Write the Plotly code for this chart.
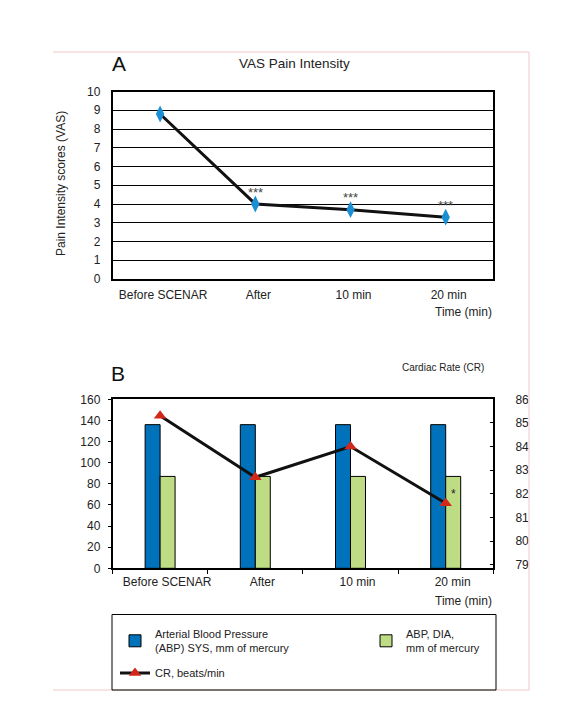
import plotly.graph_objects as go

# ---------------- data ----------------
categories = ["Before SCENAR", "After", "10 min", "20 min"]
vas_scores = [8.8, 4.0, 3.7, 3.3]
vas_marks = ["", "***", "***", "***"]
abp_sys = [136, 136, 136, 136]
abp_dia = [87, 87, 87, 87]
cardiac_rate = [85.3, 82.7, 84.0, 81.6]
cr_marks = ["", "", "", "*"]
vas_ticks = list(range(0, 11))
bp_ticks = list(range(0, 161, 20))
cr_ticks = list(range(79, 87))

W, H = 588, 705


def px(x):
    return x / W


def py(y):
    return 1 - y / H


FONT = "Liberation Sans, Arial, sans-serif"
TXT = "#222222"
PINK = "#f0c8c8"

fig = go.Figure()

# Panel A
fig.add_trace(go.Scatter(
    x=categories, y=vas_scores, xaxis="x", yaxis="y", mode="lines+markers",
    line=dict(color="#111111", width=3),
    marker=dict(symbol="diamond-tall", size=12, color="#1a8fd4"),
    showlegend=False, name="VAS"))

# Panel B
fig.add_trace(go.Bar(
    x=categories, y=abp_sys, xaxis="x2", yaxis="y2",
    name="Arterial Blood Pressure<br>(ABP) SYS, mm of mercury",
    marker=dict(color="#0072bc", line=dict(color="#000000", width=1)),
    legend="legend"))
fig.add_trace(go.Bar(
    x=categories, y=abp_dia, xaxis="x2", yaxis="y2",
    name="ABP, DIA,<br>mm of mercury",
    marker=dict(color="#bedc84", line=dict(color="#000000", width=1)),
    legend="legend3"))
fig.add_trace(go.Scatter(
    x=categories, y=cardiac_rate, xaxis="x2", yaxis="y3", mode="lines+markers",
    name="CR, beats/min",
    line=dict(color="#111111", width=3),
    marker=dict(symbol="triangle-up", size=11, color="#d2281c"),
    legend="legend2"))

xdom = [px(112.5), px(493.3)]


def ann(x, y, text, size, color=TXT, **kw):
    d = dict(x=px(x), y=py(y), xref="paper", yref="paper", text=text, showarrow=False,
             xanchor="center", yanchor="middle", font=dict(size=size, color=color, family=FONT))
    d.update(kw)
    return d


annotations = []
for c, v, m in zip(categories, vas_scores, vas_marks):
    if m:
        annotations.append(dict(x=c, y=v, xref="x", yref="y", text=m, showarrow=False,
                                xanchor="center", yanchor="middle", yshift=12,
                                font=dict(size=13, color="#444444", family=FONT)))
for c, v, m in zip(categories, cardiac_rate, cr_marks):
    if m:
        annotations.append(dict(x=c, y=v, xref="x2", yref="y3", text=m, showarrow=False,
                                xanchor="center", yanchor="middle", xshift=8, yshift=9,
                                font=dict(size=12, color="#222222", family=FONT)))

annotations += [
    ann(119, 63, "A", 21, "#111111"),
    ann(295, 63, "VAS Pain Intensity", 13.5),
    ann(61, 184, "Pain Intensity scores (VAS)", 12, textangle=-90),
    ann(463, 312, "Time (min)", 12),
    ann(118, 373, "B", 21, "#111111"),
    ann(443, 367, "Cardiac Rate (CR)", 10),
    ann(463, 601, "Time (min)", 12),
]

shapes = [
    # pink page frame
    dict(type="line", xref="paper", yref="paper", x0=px(53), x1=px(529), y0=py(52), y1=py(52),
         line=dict(color=PINK, width=1)),
    dict(type="line", xref="paper", yref="paper", x0=px(529), x1=px(529), y0=py(52), y1=py(690),
         line=dict(color=PINK, width=1)),
    dict(type="line", xref="paper", yref="paper", x0=px(53), x1=px(529), y0=py(690), y1=py(690),
         line=dict(color=PINK, width=1)),
    # legend box
    dict(type="rect", xref="paper", yref="paper", x0=px(112), x1=px(496), y0=py(690), y1=py(614.5),
         line=dict(color="#000000", width=1), fillcolor="rgba(0,0,0,0)"),
]

tickf = dict(size=12, color=TXT, family=FONT)
legf = dict(size=11, color=TXT, family=FONT)

fig.update_layout(
    width=W, height=H,
    margin=dict(l=0, r=0, t=0, b=0),
    paper_bgcolor="white", plot_bgcolor="white",
    font=dict(family=FONT, color=TXT),
    barmode="group", bargap=0.685, bargroupgap=0,
    xaxis=dict(domain=xdom, anchor="y", type="category", range=[-0.5, 3.5],
               showline=True, mirror=True, linecolor="black", linewidth=1.5,
               ticks="", showgrid=False, tickfont=tickf, ticklabelstandoff=4,
               ticklabelshift=3, tickangle=0, automargin=False),
    yaxis=dict(domain=[py(279), py(91.5)], anchor="x", range=[0, 10], tickvals=vas_ticks,
               showline=True, mirror=True, linecolor="black", linewidth=1.5,
               showgrid=True, gridcolor="black", gridwidth=1, zeroline=False,
               ticks="", tickfont=tickf, ticklabelstandoff=8, automargin=False),
    xaxis2=dict(domain=xdom, anchor="y2", type="category", range=[-0.5, 3.5],
                showline=True, mirror=True, linecolor="black", linewidth=1.5,
                ticks="outside", tickson="boundaries", ticklen=4, tickcolor="black",
                showgrid=False, tickfont=tickf, ticklabelstandoff=2, ticklabelshift=7,
                tickangle=0, automargin=False),
    yaxis2=dict(domain=[py(568.3), py(399.3)], anchor="x2", range=[0, 160], tickvals=bp_ticks,
                showline=True, mirror=False, linecolor="black", linewidth=1.5,
                showgrid=False, zeroline=False, ticks="outside", ticklen=3, tickcolor="black",
                tickfont=tickf, ticklabelstandoff=5, automargin=False),
    yaxis3=dict(overlaying="y2", anchor="x2", side="right", range=[78.85, 86.0], tickvals=cr_ticks,
                showline=True, linecolor="black", linewidth=1.5,
                showgrid=False, zeroline=False, ticks="inside", ticklen=4, tickcolor="black",
                tickfont=tickf, ticklabelstandoff=18, automargin=False),
    legend=dict(orientation="v", x=px(115), y=py(641), xanchor="left", yanchor="middle",
                bgcolor="rgba(0,0,0,0)", borderwidth=0, font=legf),
    legend3=dict(orientation="v", x=px(366), y=py(641), xanchor="left", yanchor="middle",
                 bgcolor="rgba(0,0,0,0)", borderwidth=0, font=legf),
    legend2=dict(orientation="v", x=px(115), y=py(673), xanchor="left", yanchor="middle",
                 bgcolor="rgba(0,0,0,0)", borderwidth=0, font=legf),
    annotations=annotations,
    shapes=shapes,
)

fig.write_html("out.html", config={"displayModeBar": False},
               post_script="document.body.style.margin='0';")
